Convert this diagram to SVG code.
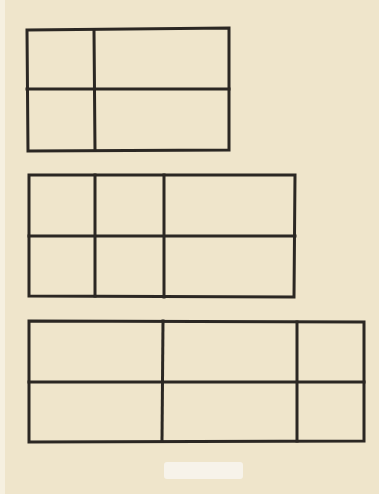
<svg xmlns="http://www.w3.org/2000/svg" width="379" height="494" viewBox="0 0 379 494">
<style>
.g{fill:none;stroke:#2b2723;stroke-width:3;stroke-linecap:square;stroke-linejoin:miter}
</style>
<rect x="0" y="0" width="379" height="494" fill="#efe5cb"/>
<rect x="0" y="0" width="5" height="494" fill="#f6f0e0"/>
<rect x="164" y="462" width="79" height="17" rx="3" fill="#f7f3ea"/>
<g id="grid-top" class="g">
<path d="M27,30 L229,28 L229,150 L28,151 Z"/>
<path d="M27,89 L229,89"/>
<path d="M94,30 L95,150"/>
</g>
<g id="grid-middle" class="g">
<path d="M29,175 L295,175 L294,297 L29,296 Z"/>
<path d="M29,236 L295,236"/>
<path d="M95,175 L95,296"/>
<path d="M164,175 L164,297"/>
</g>
<g id="grid-bottom" class="g">
<path d="M29,321 L364,322 L364,441 L29,442 Z"/>
<path d="M29,382 L364,382"/>
<path d="M163,321 L162,441"/>
<path d="M297,322 L297,441"/>
</g>
</svg>
